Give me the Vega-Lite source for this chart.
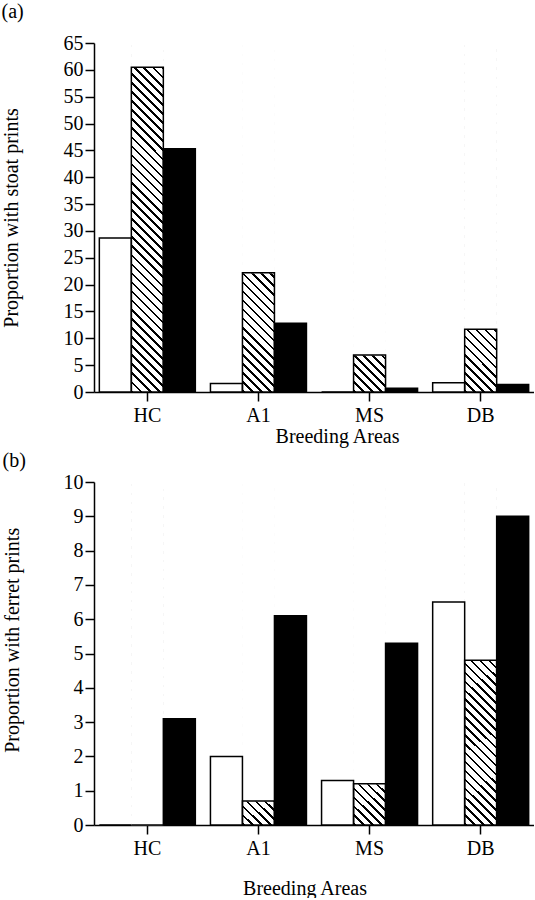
{
  "$schema": "https://vega.github.io/schema/vega-lite/v6.json",
  "padding": {"left": 1, "top": 2, "right": 0, "bottom": 0},
  "params": [
    {"name": "hatch", "value": {"gradient": "linear", "x1": 0, "y1": 1, "x2": 0.0993, "y2": -0.0826, "stops": [
      {"offset":0,"color":"#000"},{"offset":0.0068,"color":"#000"},{"offset":0.0068,"color":"#fff"},
      {"offset":0.0238,"color":"#fff"},{"offset":0.0238,"color":"#000"},{"offset":0.0306,"color":"#000"},{"offset":0.0306,"color":"#fff"},
      {"offset":0.0476,"color":"#fff"},{"offset":0.0476,"color":"#000"},{"offset":0.0544,"color":"#000"},{"offset":0.0544,"color":"#fff"},
      {"offset":0.0714,"color":"#fff"},{"offset":0.0714,"color":"#000"},{"offset":0.0782,"color":"#000"},{"offset":0.0782,"color":"#fff"},
      {"offset":0.0952,"color":"#fff"},{"offset":0.0952,"color":"#000"},{"offset":0.102,"color":"#000"},{"offset":0.102,"color":"#fff"},
      {"offset":0.119,"color":"#fff"},{"offset":0.119,"color":"#000"},{"offset":0.1258,"color":"#000"},{"offset":0.1258,"color":"#fff"},
      {"offset":0.1429,"color":"#fff"},{"offset":0.1429,"color":"#000"},{"offset":0.1497,"color":"#000"},{"offset":0.1497,"color":"#fff"},
      {"offset":0.1667,"color":"#fff"},{"offset":0.1667,"color":"#000"},{"offset":0.1735,"color":"#000"},{"offset":0.1735,"color":"#fff"},
      {"offset":0.1905,"color":"#fff"},{"offset":0.1905,"color":"#000"},{"offset":0.1973,"color":"#000"},{"offset":0.1973,"color":"#fff"},
      {"offset":0.2143,"color":"#fff"},{"offset":0.2143,"color":"#000"},{"offset":0.2211,"color":"#000"},{"offset":0.2211,"color":"#fff"},
      {"offset":0.2381,"color":"#fff"},{"offset":0.2381,"color":"#000"},{"offset":0.2449,"color":"#000"},{"offset":0.2449,"color":"#fff"},
      {"offset":0.2619,"color":"#fff"},{"offset":0.2619,"color":"#000"},{"offset":0.2687,"color":"#000"},{"offset":0.2687,"color":"#fff"},
      {"offset":0.2857,"color":"#fff"},{"offset":0.2857,"color":"#000"},{"offset":0.2925,"color":"#000"},{"offset":0.2925,"color":"#fff"},
      {"offset":0.3095,"color":"#fff"},{"offset":0.3095,"color":"#000"},{"offset":0.3163,"color":"#000"},{"offset":0.3163,"color":"#fff"},
      {"offset":0.3333,"color":"#fff"},{"offset":0.3333,"color":"#000"},{"offset":0.3401,"color":"#000"},{"offset":0.3401,"color":"#fff"},
      {"offset":0.3571,"color":"#fff"},{"offset":0.3571,"color":"#000"},{"offset":0.3639,"color":"#000"},{"offset":0.3639,"color":"#fff"},
      {"offset":0.381,"color":"#fff"},{"offset":0.381,"color":"#000"},{"offset":0.3878,"color":"#000"},{"offset":0.3878,"color":"#fff"},
      {"offset":0.4048,"color":"#fff"},{"offset":0.4048,"color":"#000"},{"offset":0.4116,"color":"#000"},{"offset":0.4116,"color":"#fff"},
      {"offset":0.4286,"color":"#fff"},{"offset":0.4286,"color":"#000"},{"offset":0.4354,"color":"#000"},{"offset":0.4354,"color":"#fff"},
      {"offset":0.4524,"color":"#fff"},{"offset":0.4524,"color":"#000"},{"offset":0.4592,"color":"#000"},{"offset":0.4592,"color":"#fff"},
      {"offset":0.4762,"color":"#fff"},{"offset":0.4762,"color":"#000"},{"offset":0.483,"color":"#000"},{"offset":0.483,"color":"#fff"},
      {"offset":0.5,"color":"#fff"},{"offset":0.5,"color":"#000"},{"offset":0.5068,"color":"#000"},{"offset":0.5068,"color":"#fff"},
      {"offset":0.5238,"color":"#fff"},{"offset":0.5238,"color":"#000"},{"offset":0.5306,"color":"#000"},{"offset":0.5306,"color":"#fff"},
      {"offset":0.5476,"color":"#fff"},{"offset":0.5476,"color":"#000"},{"offset":0.5544,"color":"#000"},{"offset":0.5544,"color":"#fff"},
      {"offset":0.5714,"color":"#fff"},{"offset":0.5714,"color":"#000"},{"offset":0.5782,"color":"#000"},{"offset":0.5782,"color":"#fff"},
      {"offset":0.5952,"color":"#fff"},{"offset":0.5952,"color":"#000"},{"offset":0.602,"color":"#000"},{"offset":0.602,"color":"#fff"},
      {"offset":0.619,"color":"#fff"},{"offset":0.619,"color":"#000"},{"offset":0.6258,"color":"#000"},{"offset":0.6258,"color":"#fff"},
      {"offset":0.6429,"color":"#fff"},{"offset":0.6429,"color":"#000"},{"offset":0.6497,"color":"#000"},{"offset":0.6497,"color":"#fff"},
      {"offset":0.6667,"color":"#fff"},{"offset":0.6667,"color":"#000"},{"offset":0.6735,"color":"#000"},{"offset":0.6735,"color":"#fff"},
      {"offset":0.6905,"color":"#fff"},{"offset":0.6905,"color":"#000"},{"offset":0.6973,"color":"#000"},{"offset":0.6973,"color":"#fff"},
      {"offset":0.7143,"color":"#fff"},{"offset":0.7143,"color":"#000"},{"offset":0.7211,"color":"#000"},{"offset":0.7211,"color":"#fff"},
      {"offset":0.7381,"color":"#fff"},{"offset":0.7381,"color":"#000"},{"offset":0.7449,"color":"#000"},{"offset":0.7449,"color":"#fff"},
      {"offset":0.7619,"color":"#fff"},{"offset":0.7619,"color":"#000"},{"offset":0.7687,"color":"#000"},{"offset":0.7687,"color":"#fff"},
      {"offset":0.7857,"color":"#fff"},{"offset":0.7857,"color":"#000"},{"offset":0.7925,"color":"#000"},{"offset":0.7925,"color":"#fff"},
      {"offset":0.8095,"color":"#fff"},{"offset":0.8095,"color":"#000"},{"offset":0.8163,"color":"#000"},{"offset":0.8163,"color":"#fff"},
      {"offset":0.8333,"color":"#fff"},{"offset":0.8333,"color":"#000"},{"offset":0.8401,"color":"#000"},{"offset":0.8401,"color":"#fff"},
      {"offset":0.8571,"color":"#fff"},{"offset":0.8571,"color":"#000"},{"offset":0.8639,"color":"#000"},{"offset":0.8639,"color":"#fff"},
      {"offset":0.881,"color":"#fff"},{"offset":0.881,"color":"#000"},{"offset":0.8878,"color":"#000"},{"offset":0.8878,"color":"#fff"},
      {"offset":0.9048,"color":"#fff"},{"offset":0.9048,"color":"#000"},{"offset":0.9116,"color":"#000"},{"offset":0.9116,"color":"#fff"},
      {"offset":0.9286,"color":"#fff"},{"offset":0.9286,"color":"#000"},{"offset":0.9354,"color":"#000"},{"offset":0.9354,"color":"#fff"},
      {"offset":0.9524,"color":"#fff"},{"offset":0.9524,"color":"#000"},{"offset":0.9592,"color":"#000"},{"offset":0.9592,"color":"#fff"},
      {"offset":0.9762,"color":"#fff"},{"offset":0.9762,"color":"#000"},{"offset":0.983,"color":"#000"},{"offset":0.983,"color":"#fff"},
      {"offset":1,"color":"#fff"}
    ]}}
  ],
  "datasets": {
    "stoat": [
      {"area": "HC", "series": "1", "value": 28.7},
      {"area": "HC", "series": "2", "value": 60.5},
      {"area": "HC", "series": "3", "value": 45.3},
      {"area": "A1", "series": "1", "value": 1.6},
      {"area": "A1", "series": "2", "value": 22.2},
      {"area": "A1", "series": "3", "value": 12.8},
      {"area": "MS", "series": "1", "value": 0},
      {"area": "MS", "series": "2", "value": 6.9},
      {"area": "MS", "series": "3", "value": 0.7},
      {"area": "DB", "series": "1", "value": 1.7},
      {"area": "DB", "series": "2", "value": 11.7},
      {"area": "DB", "series": "3", "value": 1.4}
    ],
    "ferret": [
      {"area": "HC", "series": "1", "value": 0},
      {"area": "HC", "series": "2", "value": 0},
      {"area": "HC", "series": "3", "value": 3.1},
      {"area": "A1", "series": "1", "value": 2.0},
      {"area": "A1", "series": "2", "value": 0.7},
      {"area": "A1", "series": "3", "value": 6.1},
      {"area": "MS", "series": "1", "value": 1.3},
      {"area": "MS", "series": "2", "value": 1.2},
      {"area": "MS", "series": "3", "value": 5.3},
      {"area": "DB", "series": "1", "value": 6.5},
      {"area": "DB", "series": "2", "value": 4.8},
      {"area": "DB", "series": "3", "value": 9.0}
    ]
  },
  "spacing": 90,
  "bounds": "flush",
  "vconcat": [
    {
      "title": {"text": "(a)", "offset": 11},
      "width": 440,
      "height": 349,
      "data": {"name": "stoat"},
      "encoding": {
        "x": {"field": "area", "type": "nominal",
          "scale": {"domain": ["HC", "A1", "MS", "DB"], "paddingInner": 0.136, "paddingOuter": 0.048},
          "axis": {"title": "Breeding Areas", "labelAngle": 0, "labelPadding": 4, "titleX": 243, "titleY": 50.4, "titleBaseline": "alphabetic", "titleAlign": "center"}},
        "xOffset": {"field": "series", "type": "nominal", "scale": {"domain": ["1", "2", "3"], "paddingInner": 0, "paddingOuter": 0}}
      },
      "layer": [
        {
          "transform": [{"filter": "datum.series == '2'"}],
          "mark": {"type": "bar", "fill": {"expr": "hatch"}, "strokeWidth": 0},
          "encoding": {
            "y": {"datum": 65, "type": "quantitative", "title": "Proportion with stoat prints", "scale": {"domain": [0, 65], "nice": false},
              "axis": {"values": [0, 5, 10, 15, 20, 25, 30, 35, 40, 45, 50, 55, 60, 65], "labelOverlap": false, "labelPadding": 2, "titleX": -76.5, "titleY": 174.5, "titleBaseline": "alphabetic", "titleAlign": "center", "titleAngle": 270}},
            "y2": {"datum": 0}
          }
        },
        {
          "transform": [{"filter": "datum.series == '2'"}],
          "mark": {"type": "bar", "fill": "white", "stroke": "white", "strokeWidth": 1},
          "encoding": {
            "y": {"field": "value", "type": "quantitative", "title": "Proportion with stoat prints",
              "axis": {"values": [0, 5, 10, 15, 20, 25, 30, 35, 40, 45, 50, 55, 60, 65], "labelOverlap": false, "labelPadding": 2, "titleX": -76.5, "titleY": 174.5, "titleBaseline": "alphabetic", "titleAlign": "center", "titleAngle": 270}},
            "y2": {"datum": 65}
          }
        },
        {
          "mark": {"type": "bar", "stroke": "black", "strokeWidth": 1.5},
          "encoding": {
            "y": {"field": "value", "type": "quantitative", "title": "Proportion with stoat prints",
              "axis": {"values": [0, 5, 10, 15, 20, 25, 30, 35, 40, 45, 50, 55, 60, 65], "labelOverlap": false, "labelPadding": 2, "titleX": -76.5, "titleY": 174.5, "titleBaseline": "alphabetic", "titleAlign": "center", "titleAngle": 270}},
            "fill": {"field": "series", "type": "nominal", "scale": {"domain": ["1", "2", "3"], "range": ["white", "rgba(0,0,0,0)", "black"]}, "legend": null}
          }
        }
      ]
    },
    {
      "title": {"text": "(b)", "offset": 1},
      "width": 440,
      "height": 343,
      "data": {"name": "ferret"},
      "encoding": {
        "x": {"field": "area", "type": "nominal",
          "scale": {"domain": ["HC", "A1", "MS", "DB"], "paddingInner": 0.136, "paddingOuter": 0.048},
          "axis": {"title": "Breeding Areas", "labelAngle": 0, "labelPadding": 4, "titleX": 210.5, "titleY": 69, "titleBaseline": "alphabetic", "titleAlign": "center"}},
        "xOffset": {"field": "series", "type": "nominal", "scale": {"domain": ["1", "2", "3"], "paddingInner": 0, "paddingOuter": 0}}
      },
      "layer": [
        {
          "transform": [{"filter": "datum.series == '2'"}],
          "mark": {"type": "bar", "fill": {"expr": "hatch"}, "strokeWidth": 0},
          "encoding": {
            "y": {"datum": 10, "type": "quantitative", "title": "Proportion with ferret prints", "scale": {"domain": [0, 10], "nice": false},
              "axis": {"values": [0, 1, 2, 3, 4, 5, 6, 7, 8, 9, 10], "labelOverlap": false, "labelPadding": 2, "titleX": -75.5, "titleY": 157.8, "titleBaseline": "alphabetic", "titleAlign": "center", "titleAngle": 270}},
            "y2": {"datum": 0}
          }
        },
        {
          "transform": [{"filter": "datum.series == '2'"}],
          "mark": {"type": "bar", "fill": "white", "stroke": "white", "strokeWidth": 1},
          "encoding": {
            "y": {"field": "value", "type": "quantitative", "title": "Proportion with ferret prints",
              "axis": {"values": [0, 1, 2, 3, 4, 5, 6, 7, 8, 9, 10], "labelOverlap": false, "labelPadding": 2, "titleX": -75.5, "titleY": 157.8, "titleBaseline": "alphabetic", "titleAlign": "center", "titleAngle": 270}},
            "y2": {"datum": 10}
          }
        },
        {
          "mark": {"type": "bar", "stroke": "black", "strokeWidth": 1.5},
          "encoding": {
            "y": {"field": "value", "type": "quantitative", "title": "Proportion with ferret prints",
              "axis": {"values": [0, 1, 2, 3, 4, 5, 6, 7, 8, 9, 10], "labelOverlap": false, "labelPadding": 2, "titleX": -75.5, "titleY": 157.8, "titleBaseline": "alphabetic", "titleAlign": "center", "titleAngle": 270}},
            "fill": {"field": "series", "type": "nominal", "scale": {"domain": ["1", "2", "3"], "range": ["white", "rgba(0,0,0,0)", "black"]}, "legend": null}
          }
        }
      ]
    }
  ],
  "config": {
    "view": {"stroke": null},
    "font": "Liberation Serif",
    "axis": {"labelFont": "Liberation Serif", "titleFont": "Liberation Serif", "labelFontSize": 20, "titleFontSize": 20, "titleFontWeight": "normal", "labelColor": "black", "titleColor": "black", "domainColor": "black", "tickColor": "black", "domainWidth": 1.5, "tickWidth": 1.5, "tickSize": 9, "grid": false, "zindex": 1},
    "title": {"font": "Liberation Serif", "fontSize": 20, "fontWeight": "normal", "color": "black", "anchor": "start", "frame": "bounds", "baseline": "alphabetic"}
  }
}
